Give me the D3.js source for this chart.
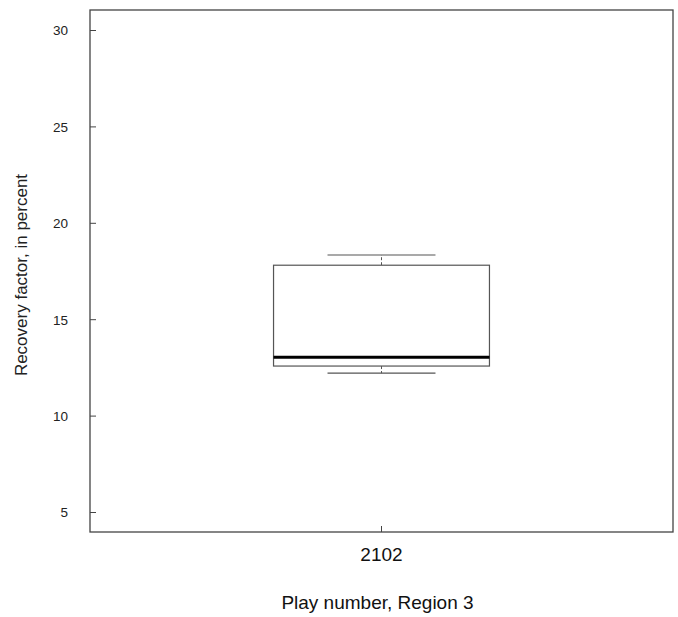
<!DOCTYPE html>
<html><head><meta charset="utf-8">
<script src="https://cdn.jsdelivr.net/npm/d3@7"></script>
<style>body{margin:0;background:#fff}svg{display:block}text{font-family:Arial,"Liberation Sans",sans-serif}</style>
</head><body>
<svg id="c" width="678" height="617"></svg>
<script>
const categories = ["2102"];
const lowerWhisker = [12.2];
const q1 = [12.57];
const median = [13.02];
const q3 = [17.8];
const upperWhisker = [18.33];
const yTicks = [5, 10, 15, 20, 25, 30];

const svg = d3.select("#c");
const L = 90, R = 673, T = 10, B = 532;
const y = d3.scaleLinear().domain([5, 30]).range([512, 30]);
const x = d3.scaleBand().domain(categories).range([L, R]).paddingInner(0).paddingOuter(0.85);
const capFrac = 0.5;

// frame
svg.append("rect").attr("x", L).attr("y", T).attr("width", R - L).attr("height", B - T)
  .attr("fill", "none").attr("stroke", "#444").attr("stroke-width", 1.3);

// y axis
const ya = svg.append("g").attr("transform", `translate(${L},0)`)
  .call(d3.axisRight(y).tickValues(yTicks).tickSize(6).tickFormat(d3.format("d")));
ya.select(".domain").remove();
ya.selectAll("line").attr("stroke", "#444");
ya.selectAll("text").attr("text-anchor", "end").attr("x", -22).attr("dy", "0.36em")
  .attr("font-size", 13.5).attr("fill", "#222");

// x axis
const xa = svg.append("g").attr("transform", `translate(0,${B})`)
  .call(d3.axisTop(x).tickSize(6).tickFormat(""));
xa.select(".domain").remove();
xa.selectAll("line").attr("stroke", "#444");
xa.selectAll(".tick").append("text").attr("y", 29).attr("text-anchor", "middle")
  .attr("font-size", 19).attr("fill", "#111").text(d => d);

// boxes
categories.forEach((c, i) => {
  const x0 = x(c), w = x.bandwidth(), cx = x0 + w / 2;
  const g = svg.append("g");
  g.append("line").attr("x1", cx).attr("x2", cx).attr("y1", y(q3[i])).attr("y2", y(upperWhisker[i]))
    .attr("stroke", "#555").attr("stroke-dasharray", "3,2");
  g.append("line").attr("x1", cx).attr("x2", cx).attr("y1", y(q1[i])).attr("y2", y(lowerWhisker[i]))
    .attr("stroke", "#555").attr("stroke-dasharray", "3,2");
  [upperWhisker[i], lowerWhisker[i]].forEach(v => {
    g.append("line").attr("x1", cx - w * capFrac / 2).attr("x2", cx + w * capFrac / 2)
      .attr("y1", y(v)).attr("y2", y(v)).attr("stroke", "#555").attr("stroke-width", 1.2);
  });
  g.append("rect").attr("x", x0).attr("y", y(q3[i])).attr("width", w).attr("height", y(q1[i]) - y(q3[i]))
    .attr("fill", "#fff").attr("stroke", "#555").attr("stroke-width", 1.2);
  g.append("line").attr("x1", x0).attr("x2", x0 + w).attr("y1", y(median[i])).attr("y2", y(median[i]))
    .attr("stroke", "#000").attr("stroke-width", 3);
});

// labels
svg.append("text").attr("x", (L + R) / 2 - 4).attr("y", 609).attr("text-anchor", "middle")
  .attr("font-size", 19).attr("fill", "#111").text("Play number, Region 3");
svg.append("text").attr("transform", `translate(27,275) rotate(-90)`).attr("text-anchor", "middle")
  .attr("font-size", 17).attr("fill", "#222").text("Recovery factor, in percent");
</script>
</body></html>
